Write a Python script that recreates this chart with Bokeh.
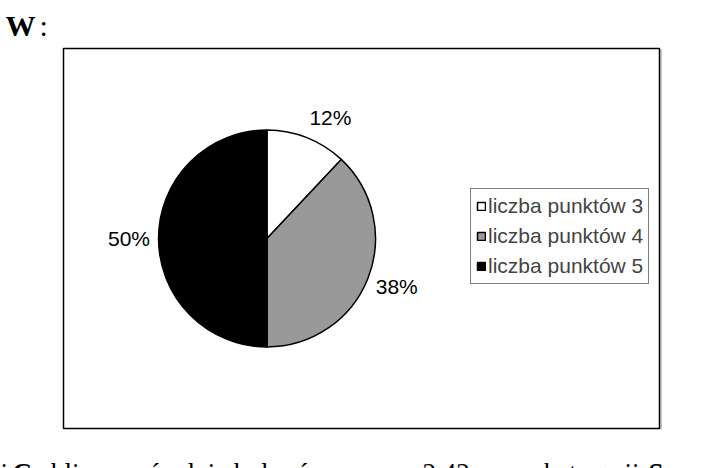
import math
from bokeh.plotting import figure
from bokeh.models import ColumnDataSource, Legend, LegendItem, Range1d
from bokeh.core.properties import value
from bokeh.embed import file_html
from bokeh.resources import INLINE

categories = ["liczba punktów 3", "liczba punktów 4", "liczba punktów 5"]
shares = [12, 38, 50]
pct_labels = ["12%", "38%", "50%"]
colors = ["#ffffff", "#999999", "#000000"]

W, H = 723, 468
cx, cy, r = 266.5, 230, 108.5

# pie angles, starting at 12 o'clock and going clockwise
total = sum(shares)
starts, ends, lx, ly = [], [], [], []
acc = 0
for s in shares:
    a0 = math.pi / 2 - 2 * math.pi * acc / total
    acc += s
    a1 = math.pi / 2 - 2 * math.pi * acc / total
    starts.append(a0)
    ends.append(a1)
    m = (a0 + a1) / 2
    # label just outside the slice, pushed out by half its width/height
    lx.append(cx + 118 * math.cos(m) + math.copysign(20, math.cos(m)))
    ly.append(cy + 130 * math.sin(m))

source = ColumnDataSource(data=dict(cat=categories, share=shares, start=starts, end=ends,
                                    color=colors, lx=lx, ly=ly, lab=pct_labels))

p = figure(width=W, height=H, x_range=Range1d(0, W), y_range=Range1d(0, H),
           x_axis_type=None, y_axis_type=None, min_border=0,
           toolbar_location=None, output_backend="svg")
p.grid.visible = False
p.outline_line_color = None

# chart frame
p.quad(left=63, right=659, bottom=40, top=420, fill_color=None, line_color="black", line_width=1.5)
p.segment(x0=660.5, y0=39, x1=660.5, y1=419, line_color="#888888", line_width=1)

pie = p.wedge(x=cx, y=cy, radius=r, start_angle="start", end_angle="end", direction="clock",
              fill_color="color", line_color="black", line_width=1.5, source=source)

p.text(x="lx", y="ly", text="lab", source=source, text_align="center", text_baseline="middle",
       text_font=value("Liberation Sans"), text_font_size="21px", text_color="black")

legend = Legend(items=[LegendItem(label=c, renderers=[pie], index=i) for i, c in enumerate(categories)],
                location=(470, 184), orientation="vertical",
                border_line_color="black", border_line_width=1, background_fill_alpha=1,
                label_text_font="Liberation Sans", label_text_font_size="21px",
                glyph_width=10, glyph_height=10, label_standoff=2,
                padding=5, spacing=6, margin=0, label_height=20)
p.add_layout(legend)

# surrounding document text
p.text(x=[5], y=[443], text=["W"], text_font=value("Liberation Serif"), text_font_style="bold",
       text_font_size="30px", text_baseline="alphabetic")
p.text(x=[39], y=[443], text=[":"], text_font=value("Liberation Serif"),
       text_font_size="30px", text_baseline="alphabetic")

bottom_parts = [
    ("i", 0, "normal"),
    ("C", 12, "bold"),
    ("obliczona średnia była równa", 37, "normal"),
    ("s", 382, "italic"),
    ("= 2,42", 400, "normal"),
    ("a w kategorii", 498, "normal"),
    ("S", 648, "bold"),
    ("s", 688, "italic"),
    ("=", 715, "normal"),
]
for txt, x0, style in bottom_parts:
    p.text(x=[x0], y=[-4], text=[txt], text_font=value("Liberation Serif"), text_font_style=style,
           text_font_size="27px", text_baseline="alphabetic")

open("out.html", "w").write(file_html(p, INLINE))
